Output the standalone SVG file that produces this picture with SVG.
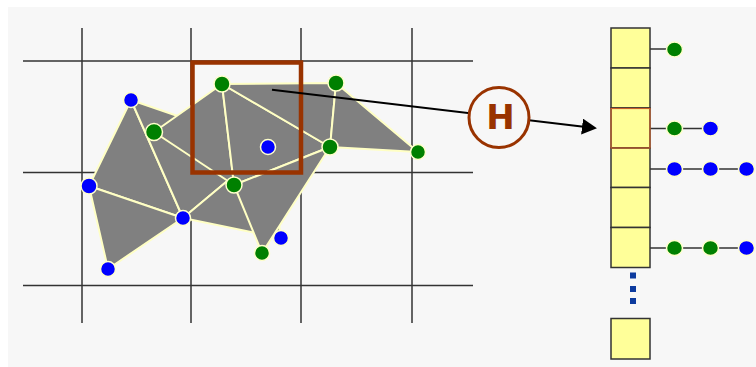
<svg xmlns="http://www.w3.org/2000/svg" width="756" height="367" viewBox="0 0 756 367">
<defs>
<style>
.grid{stroke:#333;stroke-width:1.5;fill:none}
.tri{fill:#808080;stroke:#ffffc4;stroke-width:2;stroke-linejoin:round}
.g{fill:#008000;stroke:#ffffcc;stroke-width:1.5}
.b{fill:#0000ff;stroke:#ffffcc;stroke-width:1.5}
.cell{fill:#ffff99;stroke:#333;stroke-width:1.5}
.chain{stroke:#333;stroke-width:1.5;fill:none}
.dot{fill:#0d3b9e}
</style>
<marker id="ah" viewBox="0 0 15 16" refX="8" refY="8" markerWidth="15" markerHeight="16" markerUnits="userSpaceOnUse" orient="auto">
<path d="M0,0 L15,8 L0,16 z" fill="#000"/>
</marker>
</defs>
<rect x="0" y="0" width="756" height="367" fill="#fff"/>
<rect x="8" y="7" width="748" height="360" fill="#f7f7f7"/>

<g id="grid">
<line class="grid" x1="82" y1="28" x2="82" y2="323"/>
<line class="grid" x1="191" y1="28" x2="191" y2="323"/>
<line class="grid" x1="301" y1="28" x2="301" y2="323"/>
<line class="grid" x1="412" y1="28" x2="412" y2="323"/>
<line class="grid" x1="23" y1="61" x2="473" y2="61"/>
<line class="grid" x1="23" y1="172.5" x2="473" y2="172.5"/>
<line class="grid" x1="23" y1="285.5" x2="473" y2="285.5"/>
</g>

<g id="blue-mesh">
<polygon class="tri" points="131,100 89,186 183,218"/>
<polygon class="tri" points="89,186 108,269 183,218"/>
<polygon class="tri" points="131,100 183,218 268,147"/>
<polygon class="tri" points="268,147 183,218 281,238"/>
</g>
<g id="green-mesh">
<polygon class="tri" points="154,132 222,84 234,185"/>
<polygon class="tri" points="222,84 234,185 330,147"/>
<polygon class="tri" points="222,84 336,83 330,147"/>
<polygon class="tri" points="336,83 330,147 418,152"/>
<polygon class="tri" points="330,147 234,185 262,253"/>
</g>

<g id="mesh-nodes">
<g id="b1"><circle class="b" cx="131" cy="100" r="7.5"/></g>
<g id="b2"><circle class="b" cx="268" cy="147" r="7.5"/></g>
<g id="b3"><circle class="b" cx="89" cy="186" r="8"/></g>
<g id="b4"><circle class="b" cx="183" cy="218" r="7.5"/></g>
<g id="b5"><circle class="b" cx="108" cy="269" r="7.5"/></g>
<g id="b6"><circle class="b" cx="281" cy="238" r="7.5"/></g>
<g id="g1"><circle class="g" cx="222" cy="84" r="8"/></g>
<g id="g2"><circle class="g" cx="336" cy="83" r="8"/></g>
<g id="g3"><circle class="g" cx="330" cy="147" r="8"/></g>
<g id="g4"><circle class="g" cx="234" cy="185" r="8"/></g>
<g id="g5"><circle class="g" cx="262" cy="253" r="7.5"/></g>
<g id="g6"><circle class="g" cx="154" cy="132" r="8.5"/></g>
<g id="g7"><circle class="g" cx="418" cy="152" r="7.5"/></g>
</g>

<g id="cell-box"><rect x="192.5" y="62.5" width="108.5" height="110" fill="none" stroke="#993300" stroke-width="4.5"/></g>

<g id="connectors">
<line x1="272" y1="89.8" x2="590" y2="127.5" stroke="#000" stroke-width="2" marker-end="url(#ah)"/>
<line class="chain" x1="628" y1="49" x2="674" y2="49"/>
<line class="chain" x1="628" y1="128.5" x2="710" y2="128.5"/>
<line class="chain" x1="628" y1="169" x2="746" y2="169"/>
<line class="chain" x1="628" y1="248" x2="746" y2="248"/>
</g>

<g id="hash">
<circle cx="499" cy="117.5" r="30" fill="#f7f7f7" stroke="#993300" stroke-width="3"/>
<text x="500.5" y="129" font-family="DejaVu Sans, sans-serif" font-weight="bold" font-size="34" fill="#993300" text-anchor="middle">H</text>
</g>

<g id="table">
<rect class="cell" x="611" y="28" width="39" height="40"/>
<rect class="cell" x="611" y="68" width="39" height="40"/>
<rect class="cell" x="611" y="108" width="39" height="40"/>
<rect class="cell" x="611" y="148" width="39" height="39.5"/>
<rect class="cell" x="611" y="187.5" width="39" height="40"/>
<rect class="cell" x="611" y="227.5" width="39" height="40"/>
<rect x="611" y="108.5" width="39" height="39.5" fill="none" stroke="#c8602a" stroke-width="1.2"/>
<rect class="dot" x="630" y="272.5" width="6" height="6"/>
<rect class="dot" x="630" y="286" width="6" height="6"/>
<rect class="dot" x="630" y="298" width="6" height="6"/>
<rect class="cell" x="611" y="318.5" width="39" height="40.5"/>
</g>

<g id="bucket-nodes">
<g id="r1n1"><ellipse class="g" cx="674.5" cy="49.5" rx="8" ry="7.5"/></g>
<g id="r3n1"><ellipse class="g" cx="674.5" cy="128.5" rx="8" ry="7.5"/></g>
<g id="r3n2"><ellipse class="b" cx="710.5" cy="128.5" rx="8" ry="7.5"/></g>
<g id="r4n1"><ellipse class="b" cx="674.5" cy="169" rx="8" ry="7.5"/></g>
<g id="r4n2"><ellipse class="b" cx="710.5" cy="169" rx="8" ry="7.5"/></g>
<g id="r4n3"><ellipse class="b" cx="746.5" cy="169" rx="8" ry="7.5"/></g>
<g id="r6n1"><ellipse class="g" cx="674.5" cy="248" rx="8" ry="7.5"/></g>
<g id="r6n2"><ellipse class="g" cx="710.5" cy="248" rx="8" ry="7.5"/></g>
<g id="r6n3"><ellipse class="b" cx="746.5" cy="248" rx="8" ry="7.5"/></g>
</g>
</svg>
